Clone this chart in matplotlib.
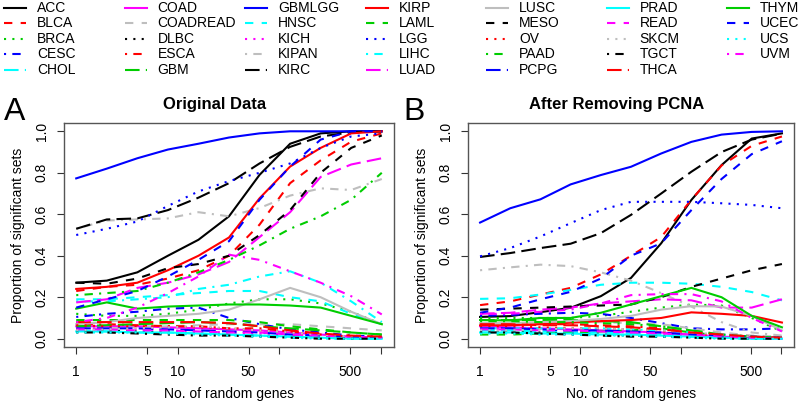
import numpy as np
import matplotlib
matplotlib.use('Agg')
import matplotlib.pyplot as plt

plt.rcParams['font.family'] = ['Liberation Sans', 'DejaVu Sans']

# number of random genes (2^0 .. 2^10)
n_genes = [1, 2, 4, 8, 16, 32, 64, 128, 256, 512, 1024]

cancer_types = ['ACC', 'BLCA', 'BRCA', 'CESC', 'CHOL', 'COAD', 'COADREAD', 'DLBC', 'ESCA',
                'GBM', 'GBMLGG', 'HNSC', 'KICH', 'KIPAN', 'KIRC', 'KIRP', 'LAML', 'LGG',
                'LIHC', 'LUAD', 'LUSC', 'MESO', 'OV', 'PAAD', 'PCPG', 'PRAD', 'READ',
                'SKCM', 'TGCT', 'THCA', 'THYM', 'UCEC', 'UCS', 'UVM']

# panel A: original data
orig = {
    'ACC':      [.27, .28, .32, .40, .477, .59, .79, .94, .99, 1.0, 1.0],
    'BLCA':     [.23, .25, .26, .29, .33, .40, .55, .75, .86, .95, .99],
    'BRCA':     [.12, .11, .11, .12, .14, .17, .19, .19, .17, .13, .07],
    'CESC':     [.105, .12, .13, .145, .15, .10, .07, .045, .03, .015, .01],
    'CHOL':     [.04, .035, .03, .03, .025, .02, .015, .01, .005, .0, .0],
    'COAD':     [.06, .06, .06, .055, .05, .045, .04, .03, .02, .01, .005],
    'COADREAD': [.05, .05, .055, .06, .065, .07, .07, .07, .06, .05, .04],
    'DLBC':     [.04, .04, .035, .03, .025, .02, .015, .01, .008, .005, .003],
    'ESCA':     [.07, .07, .065, .06, .06, .05, .05, .035, .02, .01, .005],
    'GBM':      [.06, .065, .07, .075, .08, .075, .06, .05, .04, .03, .02],
    'GBMLGG':   [.773, .82, .87, .912, .94, .97, .99, 1.0, 1.0, 1.0, 1.0],
    'HNSC':     [.19, .19, .20, .21, .22, .23, .23, .20, .18, .12, .07],
    'KICH':     [.05, .05, .045, .04, .035, .03, .025, .02, .01, .005, .0],
    'KIPAN':    [.53, .57, .575, .58, .61, .59, .63, .69, .725, .717, .77],
    'KIRC':     [.53, .575, .58, .62, .68, .75, .845, .925, .975, .995, 1.0],
    'KIRP':     [.24, .25, .27, .33, .40, .488, .677, .83, .92, .99, 1.0],
    'LAML':     [.09, .09, .09, .09, .09, .09, .08, .06, .045, .03, .02],
    'LGG':      [.50, .53, .565, .64, .71, .76, .80, .845, .92, .975, .99],
    'LIHC':     [.18, .18, .19, .20, .24, .26, .30, .325, .27, .18, .08],
    'LUAD':     [.175, .19, .245, .27, .31, .37, .49, .61, .78, .84, .87],
    'LUSC':     [.07, .08, .10, .11, .12, .14, .19, .245, .20, .13, .07],
    'MESO':     [.27, .265, .29, .34, .36, .40, .50, .62, .80, .92, .98],
    'OV':       [.065, .06, .06, .06, .055, .05, .04, .03, .02, .01, .005],
    'PAAD':     [.21, .22, .23, .27, .32, .38, .45, .53, .59, .67, .80],
    'PCPG':     [.05, .05, .05, .045, .04, .035, .03, .02, .015, .01, .005],
    'PRAD':     [.035, .035, .03, .03, .025, .02, .015, .01, .005, .0, .0],
    'READ':     [.045, .045, .04, .04, .035, .03, .03, .02, .015, .01, .005],
    'SKCM':     [.04, .045, .05, .055, .06, .05, .04, .03, .02, .01, .005],
    'TGCT':     [.03, .03, .025, .02, .015, .015, .01, .005, .0, .0, .0],
    'THCA':     [.08, .08, .08, .08, .08, .075, .06, .04, .025, .015, .01],
    'THYM':     [.145, .175, .145, .155, .16, .165, .165, .16, .15, .11, .07],
    'UCEC':     [.15, .19, .23, .30, .38, .47, .67, .83, .96, 1.0, 1.0],
    'UCS':      [.03, .03, .03, .025, .02, .015, .01, .005, .0, .0, .0],
    'UVM':      [.08, .10, .15, .22, .30, .405, .38, .325, .27, .205, .117],
}

# panel B: after removing PCNA
no_pcna = {
    'ACC':      [.105, .109, .128, .149, .205, .293, .46, .669, .837, .965, .99],
    'BLCA':     [.162, .18, .213, .245, .31, .40, .49, .67, .835, .93, .975],
    'BRCA':     [.10, .10, .10, .10, .11, .13, .15, .165, .16, .10, .035],
    'CESC':     [.11, .115, .12, .125, .12, .10, .075, .05, .045, .045, .05],
    'CHOL':     [.04, .04, .035, .03, .03, .025, .02, .01, .005, .0, .0],
    'COAD':     [.06, .055, .05, .045, .04, .035, .03, .02, .01, .005, .0],
    'COADREAD': [.07, .07, .075, .08, .08, .075, .07, .05, .03, .015, .01],
    'DLBC':     [.035, .03, .03, .025, .02, .015, .01, .008, .005, .003, .0],
    'ESCA':     [.075, .075, .07, .07, .065, .06, .05, .03, .02, .01, .005],
    'GBM':      [.09, .09, .09, .09, .085, .08, .06, .04, .02, .01, .005],
    'GBMLGG':   [.56, .629, .672, .744, .789, .829, .893, .949, .984, .997, 1.0],
    'HNSC':     [.192, .195, .213, .235, .26, .27, .27, .265, .25, .225, .185],
    'KICH':     [.05, .05, .045, .04, .035, .03, .025, .02, .01, .005, .0],
    'KIPAN':    [.33, .344, .357, .35, .32, .28, .22, .155, .08, .03, .015],
    'KIRC':     [.394, .413, .437, .458, .509, .597, .70, .805, .90, .96, .989],
    'KIRP':     [.065, .065, .07, .077, .085, .09, .10, .127, .12, .11, .078],
    'LAML':     [.02, .02, .025, .03, .035, .04, .05, .03, .015, .005, .0],
    'LGG':      [.397, .437, .493, .557, .62, .66, .66, .66, .653, .645, .629],
    'LIHC':     [.05, .05, .05, .05, .05, .045, .04, .03, .02, .01, .005],
    'LUAD':     [.12, .125, .14, .15, .17, .18, .19, .185, .15, .15, .19],
    'LUSC':     [.075, .075, .08, .085, .095, .11, .14, .157, .155, .11, .04],
    'MESO':     [.14, .145, .15, .155, .16, .165, .20, .25, .29, .33, .36],
    'OV':       [.06, .06, .055, .05, .05, .045, .035, .025, .015, .01, .005],
    'PAAD':     [.085, .085, .08, .08, .075, .07, .06, .04, .02, .01, .005],
    'PCPG':     [.05, .05, .045, .04, .04, .035, .03, .02, .015, .01, .005],
    'PRAD':     [.03, .03, .025, .025, .02, .02, .015, .01, .005, .0, .0],
    'READ':     [.045, .045, .04, .04, .035, .03, .025, .02, .01, .005, .0],
    'SKCM':     [.04, .04, .045, .05, .05, .045, .04, .03, .02, .01, .005],
    'TGCT':     [.03, .03, .025, .02, .015, .01, .01, .005, .0, .0, .0],
    'THCA':     [.07, .07, .065, .065, .06, .055, .045, .03, .02, .01, .005],
    'THYM':     [.09, .088, .10, .10, .125, .165, .205, .245, .20, .11, .055],
    'UCEC':     [.125, .15, .19, .226, .29, .40, .46, .62, .77, .89, .952],
    'UCS':      [.025, .025, .02, .02, .015, .015, .01, .005, .0, .0, .0],
    'UVM':      [.12, .12, .13, .14, .17, .21, .215, .215, .18, .10, .035],
}

x_ticks = [1, 5, 10, 50, 100, 500, 1000]
x_ticklabels = ['1', '5', '10', '50', '', '500', '']

# R-like palette (black, red, green3, blue, cyan, magenta, gray) and lty 1..5
r_cols = ['#000000', '#FF0000', '#00CD00', '#0000FF', '#00FFFF', '#FF00FF', '#BEBEBE']
r_ltys = ['-', (0, (4, 4)), (0, (1, 3)), (0, (1, 3, 4, 3)), (0, (7, 3))]
LW = 1.5
FS = 10


def style(i):
    return r_cols[i % 7], r_ltys[i % 5]


def draw_panel(ax, data):
    for i, name in enumerate(cancer_types):
        c, ls = style(i)
        ax.plot(n_genes, data[name], color=c, linestyle=ls, lw=LW,
                dash_capstyle='butt', solid_joinstyle='miter')
    ax.set_xscale('log')
    lo, hi = np.log10(n_genes[0]), np.log10(n_genes[-1])
    pad = 0.04 * (hi - lo)
    ax.set_xlim(10 ** (lo - pad), 10 ** (hi + pad))
    ax.set_ylim(-0.04, 1.04)
    ax.xaxis.set_minor_locator(matplotlib.ticker.NullLocator())
    ax.set_xticks(x_ticks)
    ax.set_xticklabels(x_ticklabels)
    ax.set_yticks([0, 0.2, 0.4, 0.6, 0.8, 1.0])
    ax.set_yticklabels(['0.0', '0.2', '0.4', '0.6', '0.8', '1.0'], rotation=90, va='center')
    ax.tick_params(direction='out', length=5, width=0.8, color='#333333',
                   labelsize=FS, pad=8)
    ax.tick_params(axis='y', pad=6)
    for sp in ax.spines.values():
        sp.set_color('#555555')
        sp.set_linewidth(1.0)
    ax.set_xlabel('No. of random genes', fontsize=FS, labelpad=6)
    ax.set_ylabel('Proportion of significant sets', fontsize=FS, labelpad=7)


fig = plt.figure(figsize=(8, 4.16), dpi=100)
W, H = 800, 416
axA = fig.add_axes([64 / W, 1 - 347 / H, 330 / W, 224 / H])
axB = fig.add_axes([468 / W, 1 - 347 / H, 326 / W, 224 / H])
draw_panel(axA, orig)
draw_panel(axB, no_pcna)

# panel titles and letters
fig.text(215 / W, 1 - 109 / H, 'Original Data', fontsize=12, fontweight='bold',
         ha='center', va='baseline')
fig.text(617 / W, 1 - 109 / H, 'After Removing PCNA', fontsize=12, fontweight='bold',
         ha='center', va='baseline')
fig.text(4 / W, 1 - 120 / H, 'A', fontsize=23, va='baseline', ha='left')
fig.text(403 / W, 1 - 120 / H, 'B', fontsize=23, va='baseline', ha='left')

# legend across the top, 7 columns x 5 rows, filled column by column
lg = fig.add_axes([0, 0, 1, 1])
lg.set_xlim(0, W)
lg.set_ylim(H, 0)
lg.axis('off')
for i, name in enumerate(cancer_types):
    col, row = i // 5, i % 5
    x0 = 4 + 120.5 * col
    y0 = 7.5 + 15.6 * row
    c, ls = style(i)
    lg.plot([x0, x0 + 22], [y0, y0], color=c, linestyle=ls, lw=LW, dash_capstyle='butt')
    lg.text(x0 + 33, y0, name, fontsize=FS, va='center', ha='left')

fig.savefig('out.png', dpi=100)
